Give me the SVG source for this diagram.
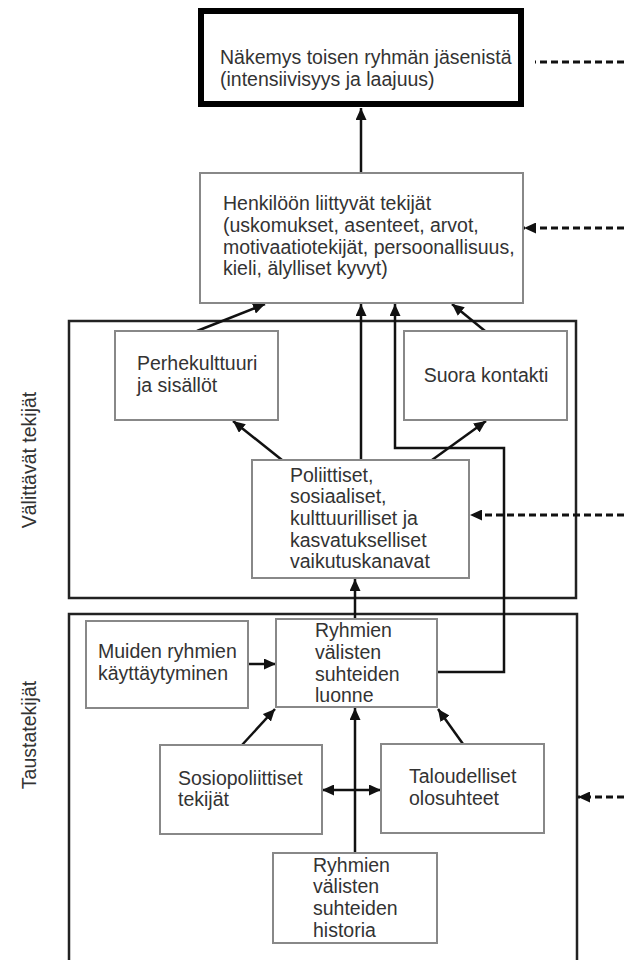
<svg xmlns="http://www.w3.org/2000/svg" width="624" height="960" viewBox="0 0 624 960">
<defs>
<style>
.t{font-family:"Liberation Sans",Arial,sans-serif;font-size:19.5px;fill:#333}
.box{fill:#fff;stroke:#888;stroke-width:2}
.frame{fill:none;stroke:#222;stroke-width:2.5}
.c{fill:none;stroke:#111;stroke-width:2.5}
.d{fill:none;stroke:#111;stroke-width:3;stroke-dasharray:7 4}
</style>
<marker id="ah" markerWidth="12" markerHeight="11" refX="12" refY="5.5" orient="auto-start-reverse" markerUnits="userSpaceOnUse">
<path d="M0,0 L12,5.5 L0,11 z" fill="#111"/>
</marker>
</defs>
<rect width="624" height="960" fill="#fff"/>

<g id="frames">
<rect class="frame" x="69" y="321" width="507" height="277"/>
<path class="frame" d="M69,962 V614 H577 V962"/>
<text class="t" text-anchor="middle" transform="translate(36,460) rotate(-90)">Välittävät tekijät</text>
<text class="t" text-anchor="middle" transform="translate(36,735) rotate(-90)">Taustatekijät</text>
</g>

<g id="connectors">
<line class="c" x1="361" y1="173" x2="361" y2="108" marker-end="url(#ah)"/>
<line class="c" x1="197" y1="331" x2="265" y2="304" marker-end="url(#ah)"/>
<line class="c" x1="361" y1="460" x2="361" y2="304" marker-end="url(#ah)"/>
<path class="c" d="M437,672 H504 V448 H395 V304" marker-end="url(#ah)"/>
<line class="c" x1="485" y1="331" x2="452" y2="304" marker-end="url(#ah)"/>
<line class="c" x1="282" y1="460" x2="233" y2="421" marker-end="url(#ah)"/>
<line class="c" x1="432" y1="460" x2="486" y2="421" marker-end="url(#ah)"/>
<line class="c" x1="355" y1="619" x2="355" y2="579" marker-end="url(#ah)"/>
<line class="c" x1="248" y1="664" x2="276" y2="664" marker-end="url(#ah)"/>
<line class="c" x1="242" y1="745" x2="275" y2="709" marker-end="url(#ah)"/>
<line class="c" x1="463" y1="744" x2="438" y2="709" marker-end="url(#ah)"/>
<line class="c" x1="355" y1="853" x2="355" y2="708" marker-end="url(#ah)"/>
<line class="c" x1="322" y1="790" x2="381" y2="790" marker-start="url(#ah)" marker-end="url(#ah)"/>
<line class="d" x1="624" y1="62" x2="535" y2="62"/>
<line class="d" x1="624" y1="228" x2="524" y2="228" marker-end="url(#ah)"/>
<line class="d" x1="624" y1="515" x2="470" y2="515" marker-end="url(#ah)"/>
<line class="d" x1="624" y1="797" x2="578" y2="797" marker-end="url(#ah)"/>
</g>

<g id="nakemys">
<rect x="201" y="11" width="320" height="93" fill="#fff" stroke="#000" stroke-width="6"/>
<text class="t" x="220" y="64">Näkemys toisen ryhmän jäsenistä</text>
<text class="t" x="220" y="86">(intensiivisyys ja laajuus)</text>
</g>

<g id="henkiloon">
<rect class="box" x="200" y="173" width="323" height="130"/>
<text class="t" x="223" y="210">Henkilöön liittyvät tekijät</text>
<text class="t" x="223" y="232">(uskomukset, asenteet, arvot,</text>
<text class="t" x="223" y="254">motivaatiotekijät, persoonallisuus,</text>
<text class="t" x="223" y="275">kieli, älylliset kyvyt)</text>
</g>

<g id="perhekulttuuri">
<rect class="box" x="115" y="331" width="163" height="89"/>
<text class="t" x="137" y="370">Perhekulttuuri</text>
<text class="t" x="137" y="392">ja sisällöt</text>
</g>

<g id="suora">
<rect class="box" x="404" y="331" width="163" height="89"/>
<text class="t" x="486" y="382" text-anchor="middle">Suora kontakti</text>
</g>

<g id="poliittiset">
<rect class="box" x="252" y="460" width="217" height="118"/>
<text class="t" x="290" y="482">Poliittiset,</text>
<text class="t" x="290" y="503">sosiaaliset,</text>
<text class="t" x="290" y="525">kulttuurilliset ja</text>
<text class="t" x="290" y="547">kasvatukselliset</text>
<text class="t" x="290" y="568">vaikutuskanavat</text>
</g>

<g id="muiden">
<rect class="box" x="86" y="621" width="162" height="87"/>
<text class="t" x="98" y="658">Muiden ryhmien</text>
<text class="t" x="98" y="680">käyttäytyminen</text>
</g>

<g id="luonne">
<rect class="box" x="276" y="619" width="161" height="88"/>
<text class="t" x="315" y="637">Ryhmien</text>
<text class="t" x="315" y="659">välisten</text>
<text class="t" x="315" y="681">suhteiden</text>
<text class="t" x="315" y="702">luonne</text>
</g>

<g id="sosiopoliittiset">
<rect class="box" x="160" y="745" width="162" height="89"/>
<text class="t" x="178" y="785">Sosiopoliittiset</text>
<text class="t" x="178" y="806">tekijät</text>
</g>

<g id="taloudelliset">
<rect class="box" x="381" y="744" width="163" height="89"/>
<text class="t" x="409" y="783">Taloudelliset</text>
<text class="t" x="409" y="805">olosuhteet</text>
</g>

<g id="historia">
<rect class="box" x="273" y="853" width="164" height="90"/>
<text class="t" x="313" y="872">Ryhmien</text>
<text class="t" x="313" y="893">välisten</text>
<text class="t" x="313" y="915">suhteiden</text>
<text class="t" x="313" y="937">historia</text>
</g>
</svg>
